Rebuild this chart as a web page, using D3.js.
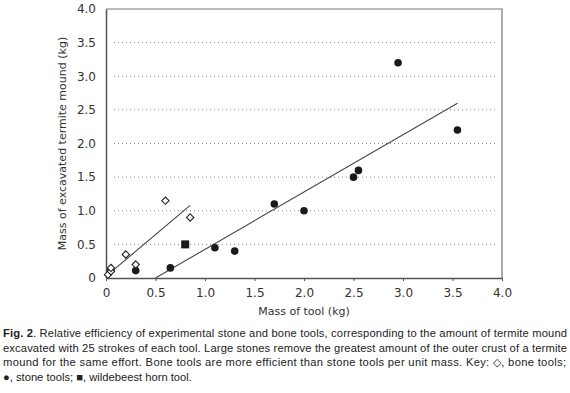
<!DOCTYPE html>
<html>
<head>
<meta charset="utf-8">
<script src="https://cdn.jsdelivr.net/npm/d3@7"></script>
<style>
  body { margin: 0; background: #fff; }
</style>
</head>
<body>
<div id="chart-area"></div>
<script>
const MARGIN = {LEFT: 106, RIGHT: 68, TOP: 9, BOTTOM: 115}
const WIDTH = 570 - MARGIN.LEFT - MARGIN.RIGHT
const HEIGHT = 393 - MARGIN.TOP - MARGIN.BOTTOM

// data
const stoneX = [0.05, 0.3, 0.65, 1.1, 1.3, 1.7, 2.0, 2.5, 2.55, 2.95, 3.55]
const stoneY = [0.12, 0.11, 0.15, 0.45, 0.4, 1.1, 1.0, 1.5, 1.6, 3.2, 2.2]
const boneX = [0.02, 0.05, 0.05, 0.2, 0.3, 0.6, 0.85]
const boneY = [0.05, 0.1, 0.15, 0.35, 0.2, 1.15, 0.9]
const hornX = [0.8]
const hornY = [0.5]
const stoneFit = [[0.5, 0], [3.55, 2.6]]
const boneFit = [[0.02, 0.05], [0.85, 1.08]]
const xTicks = [0, 0.5, 1.0, 1.5, 2.0, 2.5, 3.0, 3.5, 4.0]
const yTicks = [0, 0.5, 1.0, 1.5, 2.0, 2.5, 3.0, 3.5, 4.0]

const captionLines = [
  "Relative efficiency of experimental stone and bone tools, corresponding to the amount of termite mound",
  "excavated with 25 strokes of each tool. Large stones remove the greatest amount of the outer crust of a termite",
  "mound for the same effort. Bone tools are more efficient than stone tools per unit mass. Key: \u25C7, bone tools;",
  "\u25CF, stone tools; \u25A0, wildebeest horn tool."
]

const svg = d3.select("#chart-area").append("svg")
  .attr("width", 570)
  .attr("height", 393)

const g = svg.append("g")
  .attr("transform", `translate(${MARGIN.LEFT}, ${MARGIN.TOP})`)

const x = d3.scaleLinear().domain([0, 4]).range([0, WIDTH])
const y = d3.scaleLinear().domain([0, 4]).range([HEIGHT, 0])

const fmt = d => d === 0 ? "0" : d3.format(".1f")(d)

// gridlines
g.selectAll(".grid")
  .data(yTicks.filter(d => d > 0 && d < 4))
  .enter().append("line")
  .attr("x1", 8).attr("x2", WIDTH - 6)
  .attr("y1", d => y(d)).attr("y2", d => y(d))
  .attr("stroke", "#888")
  .attr("stroke-width", 1)
  .attr("stroke-dasharray", "1,3")

// frame top/right
g.append("path")
  .attr("d", `M0,0H${WIDTH}V${HEIGHT}`)
  .attr("fill", "none").attr("stroke", "#777").attr("stroke-width", 1.2)

// X Axis
const xAxis = g.append("g")
  .attr("transform", `translate(0, ${HEIGHT})`)
  .call(d3.axisBottom(x).tickValues(xTicks).tickFormat(fmt).tickSize(3).tickSizeOuter(0))
xAxis.select(".domain").attr("stroke", "#555").attr("stroke-width", 1.5)
xAxis.selectAll(".tick line").attr("stroke", "#555")
xAxis.selectAll("text")
  .attr("font-family", "DejaVu Sans, Verdana, sans-serif")
  .attr("font-size", "12px").attr("fill", "#333").attr("dy", "1.05em")

// Y Axis
const yAxis = g.append("g")
  .call(d3.axisLeft(y).tickValues(yTicks).tickFormat(fmt).tickSize(0).tickPadding(10).tickSizeOuter(0))
yAxis.select(".domain").attr("stroke", "#555").attr("stroke-width", 1.5)
yAxis.selectAll("text")
  .attr("font-family", "DejaVu Sans, Verdana, sans-serif")
  .attr("font-size", "12px").attr("fill", "#333")

// labels
g.append("text")
  .attr("x", WIDTH / 2).attr("y", HEIGHT + 37)
  .attr("text-anchor", "middle")
  .attr("font-family", "DejaVu Sans, Verdana, sans-serif")
  .attr("font-size", "11px").attr("fill", "#333")
  .text("Mass of tool (kg)")

g.append("text")
  .attr("transform", "rotate(-90)")
  .attr("x", -HEIGHT / 2).attr("y", -40)
  .attr("text-anchor", "middle")
  .attr("font-family", "DejaVu Sans, Verdana, sans-serif")
  .attr("font-size", "11px").attr("fill", "#333")
  .text("Mass of excavated termite mound (kg)")

// fit lines
const line = d3.line().x(d => x(d[0])).y(d => y(d[1]))
g.selectAll(".fit")
  .data([stoneFit, boneFit])
  .enter().append("path")
  .attr("d", line)
  .attr("fill", "none").attr("stroke", "#444").attr("stroke-width", 1.1)

// stone tools
g.selectAll(".stone")
  .data(stoneX.map((d, i) => [d, stoneY[i]]))
  .enter().append("circle")
  .attr("cx", d => x(d[0])).attr("cy", d => y(d[1]))
  .attr("r", 3.8).attr("fill", "#1a1a1a")

// bone tools
const diamond = d3.symbol().type(d3.symbolDiamond2).size(34)
g.selectAll(".bone")
  .data(boneX.map((d, i) => [d, boneY[i]]))
  .enter().append("path")
  .attr("d", diamond)
  .attr("transform", d => `translate(${x(d[0])}, ${y(d[1])})`)
  .attr("fill", "#fff").attr("stroke", "#222").attr("stroke-width", 1.1)

// horn tool
g.selectAll(".horn")
  .data(hornX.map((d, i) => [d, hornY[i]]))
  .enter().append("rect")
  .attr("x", d => x(d[0]) - 4).attr("y", d => y(d[1]) - 4)
  .attr("width", 8).attr("height", 8).attr("fill", "#1a1a1a")

// caption
const cap = svg.append("g")
  .attr("font-family", "Liberation Sans, Arial, sans-serif")
  .attr("font-size", "11.2px").attr("fill", "#222")

captionLines.forEach((txt, i) => {
  const t = cap.append("text")
    .attr("x", 3).attr("y", 337 + i * 14.6)
  if (i < 3) t.attr("textLength", i === 2 ? 563 : 564).attr("lengthAdjust", "spacing")
  if (i === 0) {
    t.append("tspan").attr("font-weight", "bold").text("Fig. 2")
    t.append("tspan").text(". " + txt)
  } else {
    t.text(txt)
  }
})
</script>
</body>
</html>
